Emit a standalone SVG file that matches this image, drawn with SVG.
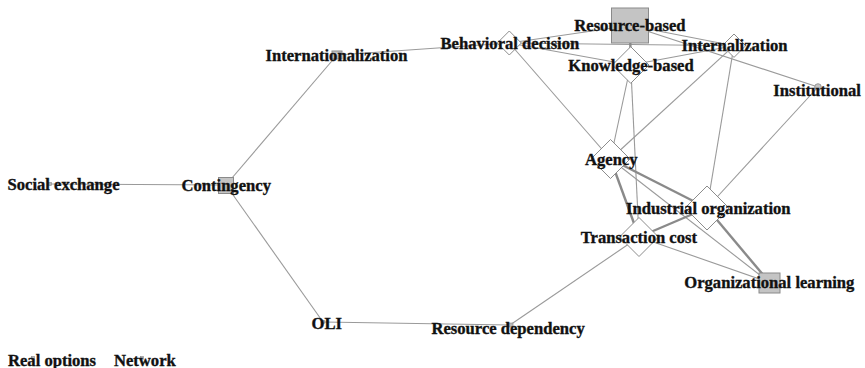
<svg xmlns="http://www.w3.org/2000/svg" width="865" height="368" viewBox="0 0 865 368">
<style>
.e{stroke:#9a9a9a;stroke-width:1.1;fill:none}
.t{stroke:#8a8a8a;stroke-width:2.4;fill:none}
.d{fill:#fff;stroke:#8c8c8c;stroke-width:1}
.s{fill:#c4c4c4;stroke:#8a8a8a;stroke-width:1}
.m{fill:#b8b8b8;stroke:#8a8a8a;stroke-width:0.6}
text{font-family:"Liberation Serif","Times New Roman",serif;font-weight:bold;font-size:16.6px;fill:#111;stroke:#111;stroke-width:0.35}
</style>
<rect width="865" height="368" fill="#fff"/>
<g id="connectors">
<line class="e" x1="50" y1="184" x2="226" y2="185"/>
<line class="e" x1="226" y1="185" x2="337" y2="55"/>
<line class="e" x1="226" y1="185" x2="323" y2="322"/>
<line class="e" x1="323" y1="322" x2="510" y2="325"/>
<line class="e" x1="510" y1="325" x2="639" y2="237"/>
<line class="e" x1="337" y1="55" x2="509.3" y2="43"/>
<line class="e" x1="509.3" y1="43" x2="630" y2="25.5"/>
<line class="e" x1="509.3" y1="43" x2="734" y2="45.7"/>
<line class="e" x1="509.3" y1="43" x2="630.7" y2="65"/>
<line class="e" x1="509.3" y1="43" x2="610.5" y2="159"/>
<line class="t" x1="630" y1="25.5" x2="630.7" y2="65"/>
<line class="e" x1="630" y1="25.5" x2="734" y2="45.7"/>
<line class="e" x1="630" y1="25.5" x2="818" y2="87"/>
<line class="e" x1="630.7" y1="65" x2="734" y2="45.7"/>
<line class="e" x1="630.7" y1="65" x2="610.5" y2="159"/>
<line class="e" x1="630.7" y1="65" x2="639" y2="237"/>
<line class="e" x1="734" y1="45.7" x2="610.5" y2="159"/>
<line class="e" x1="734" y1="45.7" x2="707" y2="208"/>
<line class="e" x1="818" y1="87" x2="707" y2="208"/>
<line class="t" x1="610.5" y1="159" x2="707" y2="208"/>
<line class="t" x1="610.5" y1="159" x2="639" y2="237"/>
<line class="e" x1="610.5" y1="159" x2="769.5" y2="282.5"/>
<line class="t" x1="707" y1="208" x2="639" y2="237"/>
<line class="t" x1="707" y1="208" x2="769.5" y2="282.5"/>
<line class="e" x1="639" y1="237" x2="769.5" y2="282.5"/>
</g>
<g id="node-social-exchange"><rect class="m" x="48.5" y="182.5" width="3" height="3"/><text x="7.5" y="189.5">Social exchange</text></g>
<g id="node-contingency"><rect class="s" x="218.5" y="177.5" width="15" height="16"/><text x="181.5" y="191">Contingency</text></g>
<g id="node-internationalization"><rect class="s" x="332" y="51" width="10" height="8"/><text x="265.5" y="61">Internationalization</text></g>
<g id="node-oli"><rect class="m" x="321.5" y="320.5" width="3" height="3"/><text x="311.5" y="328.5">OLI</text></g>
<g id="node-resource-dependency"><rect class="m" x="507" y="323" width="6" height="4"/><text x="431.5" y="333.5">Resource dependency</text></g>
<g id="node-real-options"><rect class="m" x="31.5" y="356.5" width="3" height="3"/><text x="8" y="365.5">Real options</text></g>
<g id="node-network"><rect class="m" x="140.5" y="356.5" width="3" height="3"/><text x="114" y="365.5">Network</text></g>
<g id="node-behavioral-decision"><polygon class="d" points="509.3,31 521.3,43 509.3,55 497.3,43"/><text x="440.5" y="48.5">Behavioral decision</text></g>
<g id="node-resource-based"><rect class="s" x="611.5" y="8" width="37" height="35"/><text x="574.3" y="31">Resource-based</text></g>
<g id="node-internalization"><polygon class="d" points="734,34 745.7,45.7 734,57.4 722.3,45.7"/><text x="681.5" y="51">Internalization</text></g>
<g id="node-knowledge-based"><polygon class="d" points="630.7,46.7 649,65 630.7,83.3 612.4,65"/><text x="568.3" y="70.5">Knowledge-based</text></g>
<g id="node-institutional"><circle cx="818" cy="87" r="3.3" fill="#c4c4c4" stroke="#8a8a8a" stroke-width="0.8"/><text x="773.3" y="96">Institutional</text></g>
<g id="node-agency"><polygon class="d" points="610.5,139.5 630,159 610.5,178.5 591,159"/><text x="585" y="165">Agency</text></g>
<g id="node-industrial-organization"><polygon class="d" points="707,186 729,208 707,230 685,208"/><text x="626" y="214">Industrial organization</text></g>
<g id="node-transaction-cost"><polygon class="d" points="639,217.5 658.5,237 639,256.5 619.5,237"/><text x="580.7" y="242.5">Transaction cost</text></g>
<g id="node-organizational-learning"><rect class="s" x="759" y="273" width="21" height="20"/><text x="684.3" y="288">Organizational learning</text></g>
</svg>
